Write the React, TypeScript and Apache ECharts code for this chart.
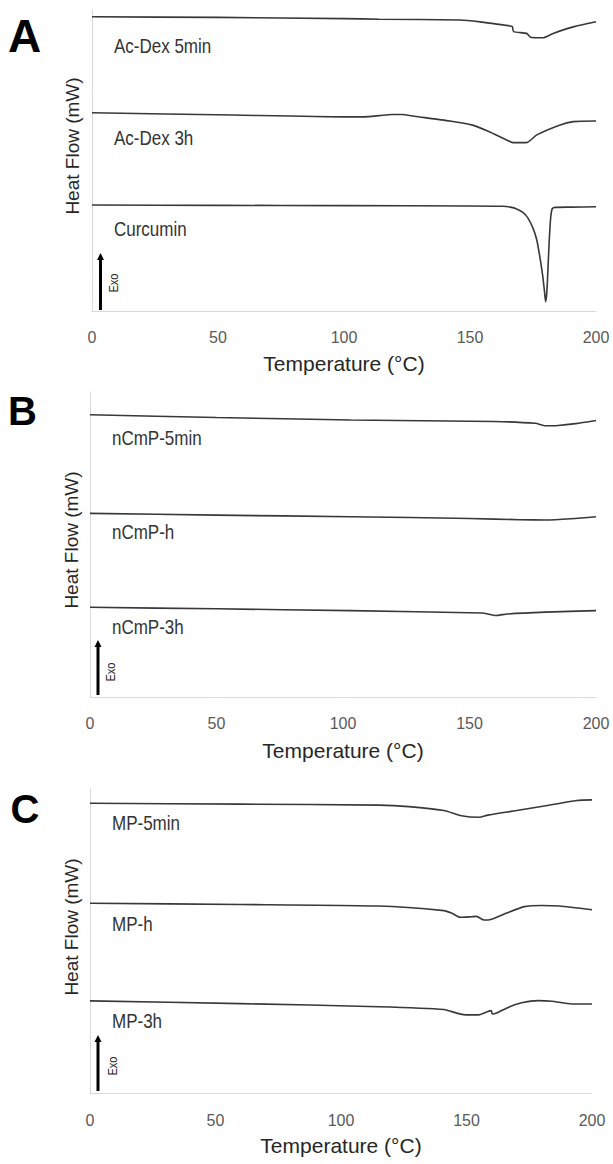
import React, { useEffect, useRef } from "react";
import * as echarts from "echarts";

// Temperature axis (°C)
const temperatureTicks = [0, 50, 100, 150, 200];

// Panel A — relative heat flow (arbitrary, stacked offsets)
const acDex5min = [[0, 99.4], [50, 99.2], [100, 98.8], [114, 98.6], [146, 98.3], [154, 97.7], [160, 97.0], [166, 96.3], [166.8, 96.1], [167.3, 94.4], [172.5, 93.8], [174, 92.5], [179, 92.3], [183, 93.8], [191, 96.0], [200, 97.7]];
const acDex3h = [[0, 67.0], [56, 66.2], [100, 65.6], [108, 65.6], [114, 66.0], [119, 66.4], [123, 66.4], [128, 65.8], [142, 64.2], [151, 62.8], [157, 60.8], [164.5, 57.8], [167, 56.9], [172.5, 56.9], [176.5, 59.5], [185.5, 62.8], [191, 64.0], [200, 64.2]];
const curcumin = [[0, 35.8], [50, 35.7], [100, 35.6], [150, 35.5], [163, 35.4], [166, 35.1], [168.5, 34.5], [171, 33.3], [173, 31.4], [175, 28.0], [176.5, 24.0], [177.8, 17.9], [178.8, 12.2], [179.5, 7.1], [180, 3.1], [180.5, 6.4], [181, 15.5], [181.5, 24.7], [182, 31.4], [182.6, 34.5], [183.7, 35.0], [190, 35.1], [200, 35.2]];

// Panel B
const nCmP5min = [[0, 92.8], [50, 91.9], [103, 91.1], [160, 90.6], [176, 90.0], [180, 89.2], [185, 89.3], [192, 89.9], [200, 90.9]];
const nCmPh = [[0, 60.4], [50, 59.8], [103, 59.3], [150, 58.7], [170, 58.3], [180, 58.2], [190, 58.6], [200, 59.3]];
const nCmP3h = [[0, 29.5], [50, 29.0], [103, 28.4], [155, 27.6], [160.5, 26.8], [165, 27.3], [180, 27.9], [200, 28.4]];

// Panel C
const mp5min = [[0, 95.0], [60, 94.7], [115, 94.4], [127, 93.9], [141, 92.6], [148, 90.9], [155, 90.4], [158.5, 91.1], [170, 92.6], [181, 94.1], [194, 95.9], [200, 96.1]];
const mpH = [[0, 62.2], [60, 61.8], [115, 61.3], [141, 59.8], [144, 59.0], [147.5, 57.6], [152, 57.8], [154, 57.9], [157, 56.7], [160, 57.0], [166, 59.0], [173, 61.1], [180, 61.5], [187, 61.3], [200, 60.1]];
const mp3h = [[0, 30.2], [60, 29.3], [115, 28.3], [141, 27.4], [146.5, 26.1], [150.5, 25.6], [154.5, 25.6], [159.8, 27.0], [160.3, 25.9], [162, 26.2], [167, 28.2], [172, 29.6], [178.5, 30.3], [184, 30.1], [192, 29.2], [200, 29.2]];

const panelLetters = ["A", "B", "C"];
const panelASeriesNames = ["Ac-Dex 5min", "Ac-Dex 3h", "Curcumin"];
const panelBSeriesNames = ["nCmP-5min", "nCmP-h", "nCmP-3h"];
const panelCSeriesNames = ["MP-5min", "MP-h", "MP-3h"];
const xAxisTitle = "Temperature (°C)";
const yAxisTitle = "Heat Flow (mW)";
const exoLabel = "Exo";

const FONT = "'Liberation Sans', Arial, sans-serif";
const LINE_COLOR = "#383838";

export default function App() {
  const ref = useRef<HTMLDivElement>(null);

  useEffect(() => {
    if (!ref.current) return;
    const chart = echarts.init(ref.current, null, { renderer: "svg" });

    const grids = [
      { left: 92, right: 17, top: 10, height: 301, yMax: 101.7, labelMargin: 18, nameGap: 42 },
      { left: 90, right: 17, top: 392, height: 305, yMax: 100.3, labelMargin: 18, nameGap: 43 },
      { left: 90, right: 21, top: 788, height: 305, yMax: 100, labelMargin: 19, nameGap: 42 },
    ];

    const panelData = [
      [acDex5min, acDex3h, curcumin],
      [nCmP5min, nCmPh, nCmP3h],
      [mp5min, mpH, mp3h],
    ];
    const panelNames = [panelASeriesNames, panelBSeriesNames, panelCSeriesNames];

    const series: any[] = [];
    panelData.forEach((arr, gi) => {
      arr.forEach((d, si) => {
        series.push({
          type: "line",
          name: panelNames[gi][si],
          xAxisIndex: gi,
          yAxisIndex: gi,
          data: d,
          showSymbol: false,
          symbol: "none",
          smooth: 0.2,
          lineStyle: { color: LINE_COLOR, width: 1.6 },
          emphasis: { disabled: true },
        });
      });
    });

    // annotation layout (pixel positions)
    const letterPos = [
      { x: 24.5, y: 36, size: 46 },
      { x: 22.5, y: 411, size: 40 },
      { x: 25, y: 809, size: 40 },
    ];
    const namePos = [
      { x: 114, ys: [46, 138, 229] },
      { x: 112, ys: [438, 532, 627] },
      { x: 112, ys: [823, 924, 1021] },
    ];
    const yTitlePos = [
      { x: 72, y: 146 },
      { x: 71, y: 540 },
      { x: 71, y: 927 },
    ];
    const exoPos = [
      { ax: 100.5, top: 253, bottom: 310, tx: 114, ty: 283 },
      { ax: 98, top: 640, bottom: 695, tx: 111, ty: 672 },
      { ax: 98, top: 1035, bottom: 1091, tx: 113, ty: 1066 },
    ];

    const graphic: any[] = [];
    panelLetters.forEach((L, i) => {
      graphic.push({
        type: "text",
        x: letterPos[i].x,
        y: letterPos[i].y,
        style: {
          text: L,
          fontSize: letterPos[i].size,
          fontWeight: "bold",
          fontFamily: FONT,
          fill: "#000",
          align: "center",
          verticalAlign: "middle",
        },
      });
      namePos[i].ys.forEach((yy, k) => {
        graphic.push({
          type: "text",
          x: namePos[i].x,
          y: yy,
          scaleX: 0.85,
          style: {
            text: panelNames[i][k],
            fontSize: 20,
            fontFamily: FONT,
            fill: "#333333",
            align: "left",
            verticalAlign: "middle",
          },
        });
      });
      graphic.push({
        type: "text",
        x: yTitlePos[i].x,
        y: yTitlePos[i].y,
        rotation: Math.PI / 2,
        style: {
          text: yAxisTitle,
          fontSize: 19,
          fontFamily: FONT,
          fill: "#262626",
          align: "center",
          verticalAlign: "middle",
        },
      });
      const e = exoPos[i];
      graphic.push({
        type: "line",
        shape: { x1: e.ax, y1: e.top + 5, x2: e.ax, y2: e.bottom },
        style: { stroke: "#000", lineWidth: 3 },
      });
      graphic.push({
        type: "polygon",
        shape: { points: [[e.ax - 3.5, e.top + 7], [e.ax, e.top], [e.ax + 3.5, e.top + 7]] },
        style: { fill: "#000" },
      });
      graphic.push({
        type: "text",
        x: e.tx,
        y: e.ty,
        rotation: Math.PI / 2,
        scaleX: 0.85,
        style: {
          text: exoLabel,
          fontSize: 13,
          fontFamily: FONT,
          fill: "#262626",
          align: "center",
          verticalAlign: "middle",
        },
      });
    });

    chart.setOption({
      animation: false,
      backgroundColor: "#ffffff",
      grid: grids.map((g) => ({ left: g.left, right: g.right, top: g.top, height: g.height })),
      xAxis: grids.map((g, i) => ({
        type: "value",
        gridIndex: i,
        min: temperatureTicks[0],
        max: temperatureTicks[temperatureTicks.length - 1],
        interval: temperatureTicks[1] - temperatureTicks[0],
        axisLine: { show: true, lineStyle: { color: "#d9d9d9", width: 1 } },
        axisTick: { show: false },
        splitLine: { show: false },
        axisLabel: { margin: g.labelMargin, fontSize: 16, color: "#595959", fontFamily: FONT },
        name: xAxisTitle,
        nameLocation: "middle",
        nameGap: g.nameGap,
        nameTextStyle: { fontSize: 21, color: "#262626", fontFamily: FONT },
      })),
      yAxis: grids.map((g, i) => ({
        type: "value",
        gridIndex: i,
        min: 0,
        max: g.yMax,
        axisLine: { show: true, lineStyle: { color: "#d9d9d9", width: 1 } },
        axisTick: { show: false },
        axisLabel: { show: false },
        splitLine: { show: false },
      })),
      series,
      graphic,
    });

    return () => chart.dispose();
  }, []);

  return (
    <div
      ref={ref}
      style={{ position: "absolute", left: 0, top: 0, width: 613, height: 1164, background: "#fff" }}
    />
  );
}
